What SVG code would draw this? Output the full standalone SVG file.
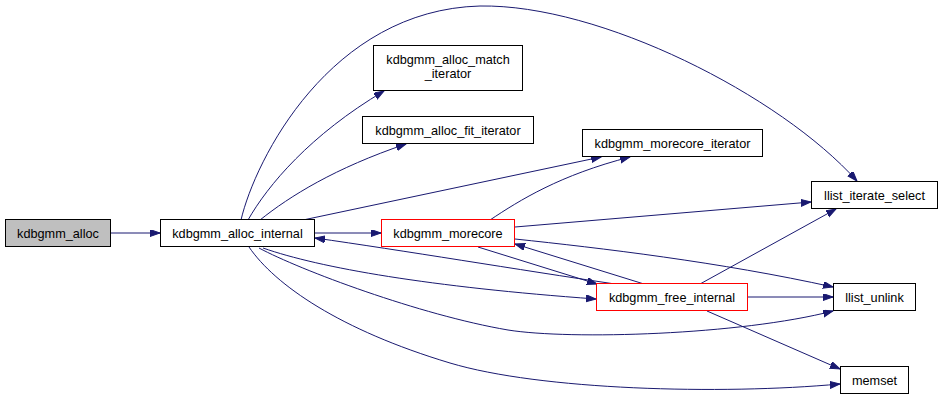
<svg xmlns="http://www.w3.org/2000/svg" width="944" height="400" viewBox="0 0 944 400">
<style>
.n rect{fill:#fff;stroke:#000;stroke-width:1}
.n.r rect{stroke:#ff0000}
.n.g rect{fill:#bfbfbf}
.n text{font-family:"Liberation Sans",Arial,sans-serif;font-size:12.7px;text-anchor:middle;fill:#000}
.e path{fill:none;stroke:#191970;stroke-width:1;marker-end:url(#a)}
</style>
<defs>
<marker id="a" markerWidth="11" markerHeight="8" refX="10" refY="3.5" orient="auto" markerUnits="userSpaceOnUse">
<path d="M0,0 L10,3.5 L0,7 z" fill="#191970" stroke="#191970" stroke-width="1"/>
</marker>
</defs>
<rect width="944" height="400" fill="#fff"/>
<g id="edges" class="e">
<path d="M111,233 L160,233"/>
<path d="M315,233 L381,233"/>
<path d="M241,220 C255,160 330,10 480,6 C600,4 780,95 857,181"/>
<path d="M248,220 C268,185 310,135 384,91"/>
<path d="M260,220 C290,196 335,168 406,144"/>
<path d="M303,220 L601,157"/>
<path d="M490,220 C520,200 560,175 630,157"/>
<path d="M515,227 L811,202"/>
<path d="M515,239 C600,248 720,262 833,287"/>
<path d="M700,284 L836,209"/>
<path d="M748,297 L833,297"/>
<path d="M707,311 L840,369"/>
<path d="M249,247 C275,285 340,330 450,363 C540,390 720,395 840,384"/>
<path d="M259,248 C300,270 420,315 508,330 C570,340 740,335 833,311"/>
<path d="M263,248 C320,268 430,287 596,299"/>
<path d="M615,284 C520,270 400,250 315,238"/>
<path d="M478,247 L597,284"/>
<path d="M644,284 L515,244"/>
</g>
<g id="kdbgmm_alloc" class="n g"><rect x="5.5" y="219.5" width="105" height="27"/><text x="58" y="237.5">kdbgmm_alloc</text></g>
<g id="kdbgmm_alloc_internal" class="n"><rect x="160.5" y="219.5" width="154" height="27"/><text x="237.5" y="237.5">kdbgmm_alloc_internal</text></g>
<g id="kdbgmm_alloc_match_iterator" class="n"><rect x="373.5" y="45.5" width="149" height="45"/><text x="448" y="63.5">kdbgmm_alloc_match</text><text x="448" y="77.5">_iterator</text></g>
<g id="kdbgmm_alloc_fit_iterator" class="n"><rect x="362.5" y="116.5" width="171" height="27"/><text x="448" y="134.5">kdbgmm_alloc_fit_iterator</text></g>
<g id="kdbgmm_morecore_iterator" class="n"><rect x="582.5" y="129.5" width="180" height="27"/><text x="672.5" y="147.5">kdbgmm_morecore_iterator</text></g>
<g id="kdbgmm_morecore" class="n r"><rect x="381.5" y="219.5" width="133" height="27"/><text x="448" y="237.5">kdbgmm_morecore</text></g>
<g id="kdbgmm_free_internal" class="n r"><rect x="596.5" y="283.5" width="151" height="27"/><text x="672" y="301.5">kdbgmm_free_internal</text></g>
<g id="llist_iterate_select" class="n"><rect x="811.5" y="181.5" width="126" height="27"/><text x="874.5" y="199.5">llist_iterate_select</text></g>
<g id="llist_unlink" class="n"><rect x="833.5" y="283.5" width="82" height="27"/><text x="874.5" y="301.5">llist_unlink</text></g>
<g id="memset" class="n"><rect x="840.5" y="366.5" width="68" height="27"/><text x="874.5" y="384.5">memset</text></g>
</svg>
